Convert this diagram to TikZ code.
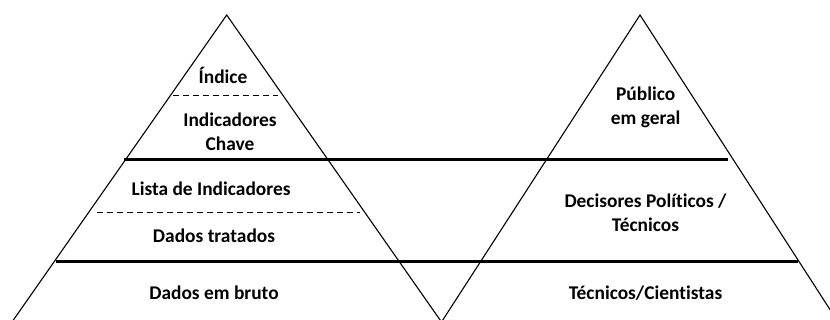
\documentclass[tikz,border=0pt]{standalone}
\usepackage{fontspec}
\setmainfont[Ligatures=NoCommon]{Carlito}
\begin{document}
\begin{tikzpicture}[x=1pt,y=-1pt,
  edge/.style={line width=1.1pt,black},
  bar/.style={line width=3.8pt,black},
  dash line/.style={line width=1pt,dash pattern=on 6pt off 4pt},
  lbl/.style={font=\fontsize{19.4}{24}\selectfont\bfseries,align=center,inner sep=0pt}]
\useasboundingbox (0,0) rectangle (830,320);
% left pyramid
\coordinate (LA) at (226.7,15);
\coordinate (LL) at (12,322);
\coordinate (LR) at (441.5,322);
\draw[edge] (LL) -- (LA) -- (LR);
% right pyramid
\coordinate (RA) at (640,15);
\coordinate (RL) at (441.5,322);
\coordinate (RR) at (838,322);
\draw[edge] (RL) -- (RA) -- (RR);
% thick bars
\coordinate (b1a) at (124,159.5);
\coordinate (b1b) at (728,159.5);
\coordinate (b2a) at (56,261.5);
\coordinate (b2b) at (798,261.5);
\draw[bar] (b1a) -- (b1b);
\draw[bar] (b2a) -- (b2b);
% dashed
\coordinate (d1a) at (173,96);
\coordinate (d1b) at (278,96);
\coordinate (d2a) at (97,213);
\coordinate (d2b) at (360,213);
\draw[dash line] (d1a) -- (d1b);
\draw[dash line] (d2a) -- (d2b);
% labels left
\node[lbl] (indice) at (223,75) {Índice};
\node[lbl] (chave) at (230,132) {Indicadores\\Chave};
\node[lbl] (lista) at (211,189) {Lista de Indicadores};
\node[lbl] (tratados) at (214,236) {Dados tratados};
\node[lbl] (bruto) at (214,293) {Dados em bruto};
% labels right
\node[lbl] (publico) at (645.7,107) {Público\\em geral};
\node[lbl] (decisores) at (645.5,213) {Decisores Políticos /\\Técnicos};
\node[lbl] (cientistas) at (645.5,293) {Técnicos/Cientistas};
\end{tikzpicture}
\end{document}
